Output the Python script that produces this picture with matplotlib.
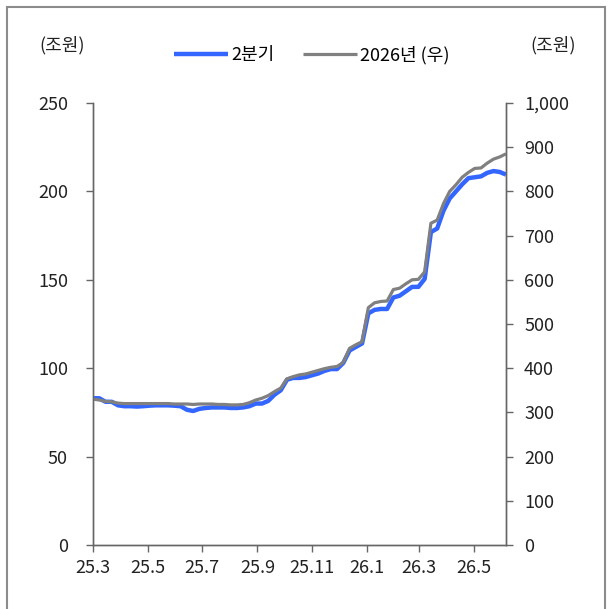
import matplotlib
matplotlib.use("Agg")
import matplotlib.pyplot as plt
import matplotlib.ticker as mticker
from matplotlib.patches import Rectangle
import pandas as pd

plt.rcParams['font.family'] = ['Noto Sans CJK KR', 'DejaVu Sans']

start_date = "2025-03-01"
q2_values = [83, 83, 81, 81, 79, 78.5, 78.5, 78.3, 78.5, 78.8, 79, 79, 79, 78.8, 78.5,
             76.5, 75.8, 77, 77.5, 77.8, 77.8, 77.8, 77.5, 77.5, 77.8, 78.5, 80, 80, 81.5,
             85, 87.5, 93.5, 94.5, 94.5, 95, 96, 97, 98.5, 99.5, 99.5, 103, 110, 112, 114,
             131, 133, 133.5, 133.5, 140, 141, 143.5, 146, 146, 150.5, 177, 179, 189, 196,
             200, 204, 207.5, 208, 208.5, 210.5, 211.5, 211, 209.5]
y2026_values = [330, 328, 325, 324, 321, 320, 320, 320, 320, 320, 320, 320, 320, 319, 319,
                319, 318, 319, 319, 319, 318, 318, 317, 317, 318, 322, 328, 332, 338,
                347, 355, 376, 381, 385, 387, 391, 395, 399, 402, 404, 413, 445, 453, 460,
                537, 548, 551, 552, 578, 581, 591, 600, 601, 618, 728, 735, 772, 800,
                815, 832, 843, 852, 853, 864, 873, 878, 885]
tick_dates = ["2025-03-01", "2025-05-01", "2025-07-01", "2025-09-01", "2025-11-01",
              "2026-01-01", "2026-03-01", "2026-05-01"]
tick_labels = ["25.3", "25.5", "25.7", "25.9", "25.11", "26.1", "26.3", "26.5"]
left_ticks = [0, 50, 100, 150, 200, 250]
right_ticks = [0, 100, 200, 300, 400, 500, 600, 700, 800, 900, 1000]

dates = pd.date_range(start_date, periods=len(q2_values), freq="7D")

W, H = 608, 609
FS = 13
fig = plt.figure(figsize=(W / 100, H / 100), dpi=100)
ax = fig.add_axes([93 / W, 1 - 545 / H, (506 - 93) / W, (545 - 103) / H])
ax2 = ax.twinx()

blue = "#3366FF"
gray = "#808080"
spine_c = "#666666"

ax.plot(dates, q2_values, color=blue, lw=3.2, solid_capstyle="butt", label="2분기")
ax2.plot(dates, y2026_values, color=gray, lw=2.3, solid_capstyle="butt", label="2026년 (우)")

ax.set_xlim(dates[0], dates[-1])
ax.set_ylim(0, 250)
ax2.set_ylim(0, 1000)
ax.set_yticks(left_ticks)
ax2.set_yticks(right_ticks)
ax2.yaxis.set_major_formatter(mticker.FuncFormatter(lambda v, p: f"{int(v):,}"))
ax.set_xticks(pd.to_datetime(tick_dates))
ax.set_xticklabels(tick_labels)

for a in (ax, ax2):
    a.spines["top"].set_visible(False)
    for s in ("left", "right", "bottom"):
        a.spines[s].set_color(spine_c)
        a.spines[s].set_linewidth(1.0)
    a.tick_params(colors="#222222", labelsize=FS, length=5, width=1.0)
ax.tick_params(axis="y", color=spine_c, pad=13)
ax.tick_params(axis="x", color=spine_c, pad=5)
ax2.tick_params(axis="y", color=spine_c, pad=8)

fig.text(62 / W, 1 - 45 / H, "(조원)", ha="center", va="center", fontsize=FS, color="#222222")
fig.text(553 / W, 1 - 45 / H, "(조원)", ha="center", va="center", fontsize=FS, color="#222222")

h1, l1 = ax.get_legend_handles_labels()
h2, l2 = ax2.get_legend_handles_labels()
fig.legend(h1 + h2, l1 + l2, loc="center", bbox_to_anchor=(312 / W, 1 - 55 / H), ncol=2,
           frameon=False, fontsize=FS, handlelength=3.0, handletextpad=0.15,
           columnspacing=1.6)

fig.patches.append(Rectangle((7 / W, -0.01), (605 - 7) / W, 1 - 7 / H + 0.01,
                             transform=fig.transFigure, fill=False,
                             edgecolor="#8c8c8c", lw=1.5))

fig.savefig("out.png", dpi=100)
